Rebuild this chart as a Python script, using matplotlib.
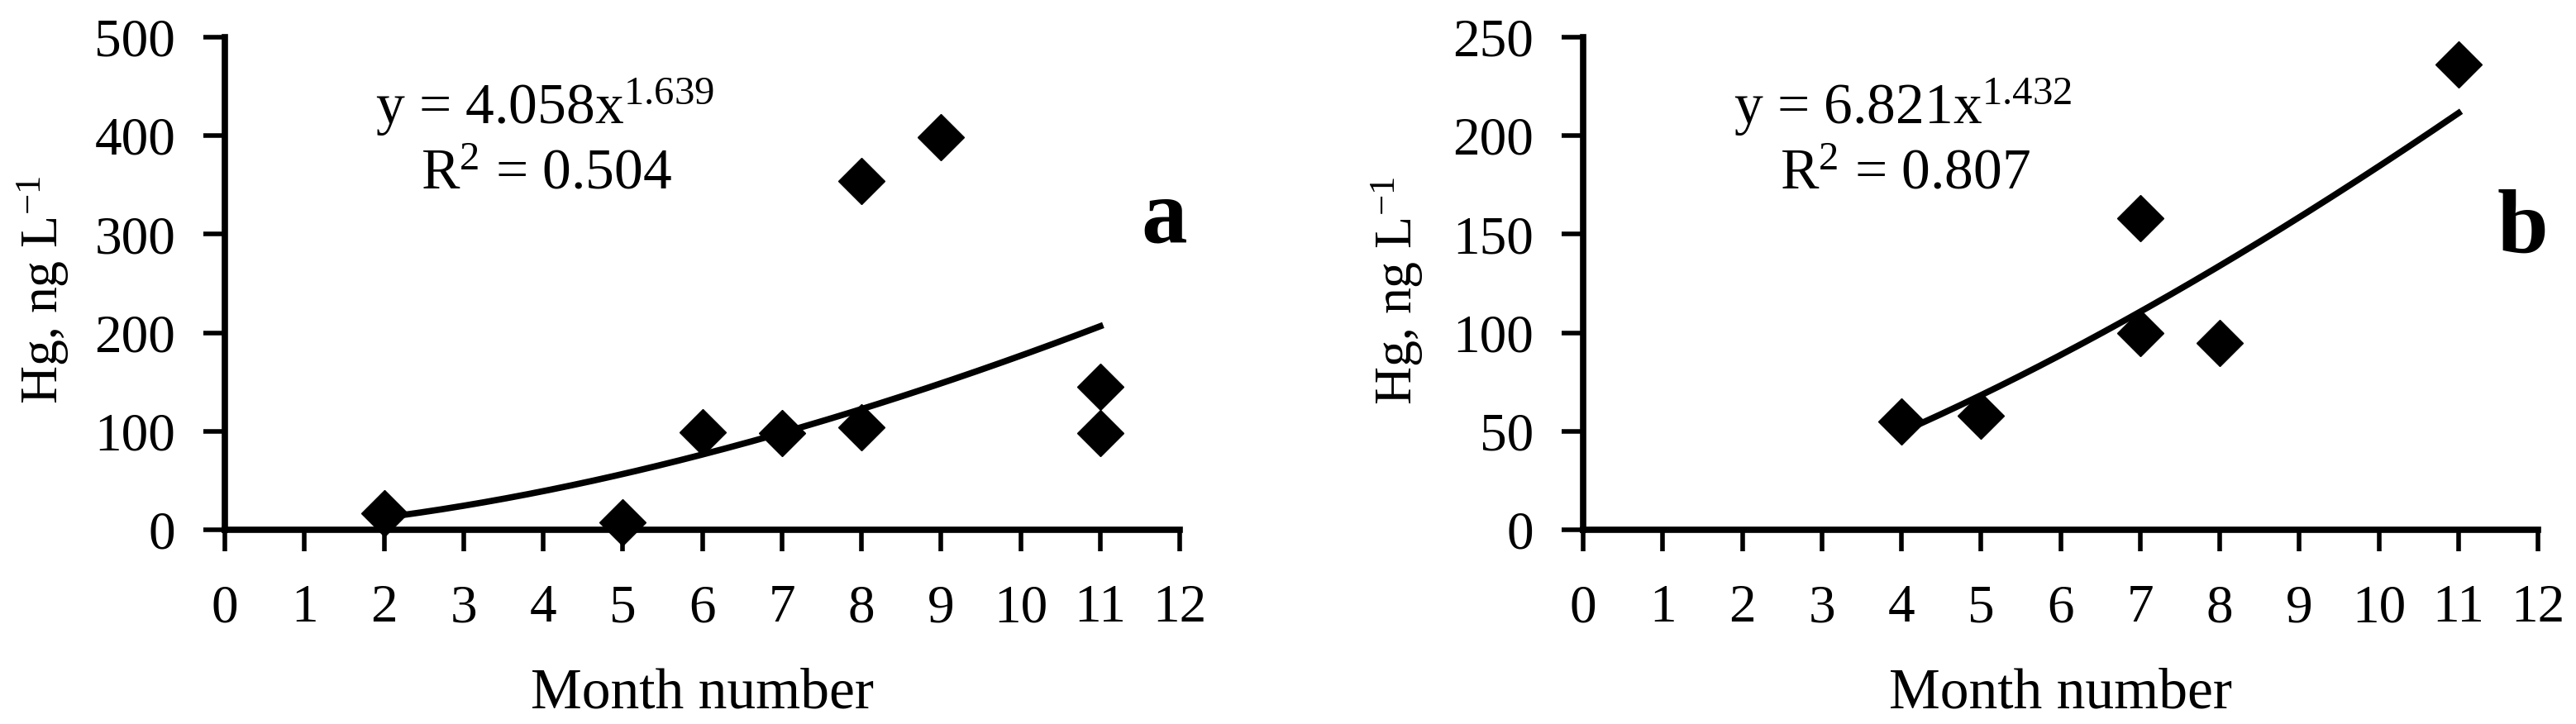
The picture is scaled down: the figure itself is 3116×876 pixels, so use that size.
import numpy as np
import matplotlib
matplotlib.use("Agg")
import matplotlib.pyplot as plt

plt.rcParams['font.family'] = ['Liberation Serif', 'DejaVu Serif']
plt.rcParams['mathtext.fontset'] = 'custom'
plt.rcParams['mathtext.rm'] = 'Liberation Serif'
plt.rcParams['mathtext.it'] = 'Liberation Serif:italic'

# panel a
month_a = [2, 5, 6, 7, 8, 8, 9, 11, 11]
hg_a = [17, 8, 99, 98, 104, 354, 398, 145, 98]
coef_a, exp_a = 4.058, 1.639

# panel b
month_b = [4, 5, 7, 7, 8, 11]
hg_b = [55, 58, 158, 100, 95, 236]
coef_b, exp_b = 6.821, 1.432

fig = plt.figure(figsize=(31.16, 8.76), dpi=100)
ax1 = fig.add_axes([0.0873, 0.268, 0.3707, 0.681])
ax2 = fig.add_axes([0.6146, 0.268, 0.3707, 0.681])


def panel(ax, x, y, c, p, ymax, ystep, eq, r2, letter, ylab_x, ylab_y, letter_y):
    # power trendline from the fitted equation shown on the chart
    xs = np.linspace(min(x), max(x), 200)
    ax.plot(xs, c * xs ** p, color='black', lw=5.5, zorder=2)
    ax.plot(x, y, 'D', color='black', markersize=29, clip_on=False, zorder=3)
    ax.set_xlim(0, 12)
    ax.set_ylim(0, ymax)
    ax.set_xticks(range(0, 13))
    ax.set_yticks(range(0, ymax + 1, ystep))
    for s in ['top', 'right']:
        ax.spines[s].set_visible(False)
    for s in ['left', 'bottom']:
        ax.spines[s].set_linewidth(5.5)
    ax.tick_params(axis='x', direction='out', length=19, width=4, pad=28, labelsize=47)
    ax.tick_params(axis='y', direction='out', length=19, width=4, pad=24, labelsize=47)
    ax.set_xlabel('Month number', fontsize=50)
    ax.xaxis.set_label_coords(0.5, -0.28)
    ax.set_ylabel(r'Hg, ng L$^{\mathrm{-1}}$', fontsize=46, va='center')
    ax.yaxis.set_label_coords(ylab_x, ylab_y)
    ax.text(0.335, 0.857, eq, transform=ax.transAxes, ha='center', va='center', fontsize=50)
    ax.text(0.337, 0.72, r2, transform=ax.transAxes, ha='center', va='center', fontsize=50)
    ax.text(0.984, letter_y, letter, transform=ax.transAxes, ha='center', va='baseline',
            fontsize=80, fontweight='bold')


panel(ax1, month_a, hg_a, coef_a, exp_a, 500, 100,
      r'y = 4.058x$^{\mathrm{1.639}}$', r'R$^{\mathrm{2}}$ = 0.504', 'a', -0.19, 0.487, 0.584)
panel(ax2, month_b, hg_b, coef_b, exp_b, 250, 50,
      r'y = 6.821x$^{\mathrm{1.432}}$', r'R$^{\mathrm{2}}$ = 0.807', 'b', -0.195, 0.485, 0.562)

fig.savefig('out.png', dpi=100)
